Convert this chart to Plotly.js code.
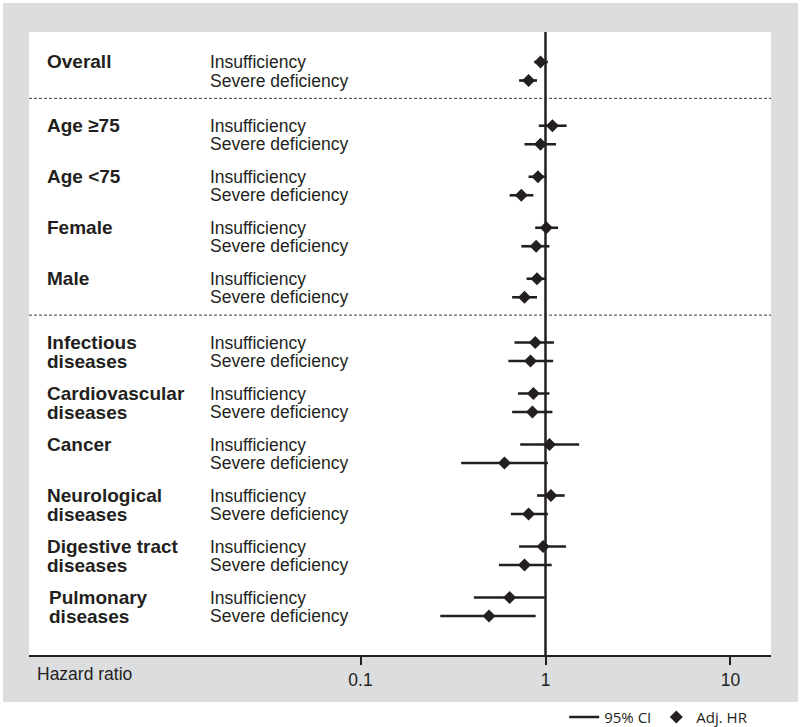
<!DOCTYPE html>
<html>
<head>
<meta charset="utf-8">
<script src="https://cdn.plot.ly/plotly-3.0.1.min.js"></script>
<style>
html,body{margin:0;padding:0;background:#ffffff;}
#chart{width:800px;height:727px;}
</style>
</head>
<body>
<div id="chart"></div>
<script>
// ---- Data ----
const groupLines = [
  ["Overall"], ["Age ≥75"], ["Age <75"], ["Female"], ["Male"],
  ["Infectious", "diseases"], ["Cardiovascular", "diseases"], ["Cancer"],
  ["Neurological", "diseases"], ["Digestive tract", "diseases"], ["Pulmonary", "diseases"]
];
const section = [0, 1, 1, 1, 1, 2, 2, 2, 2, 2, 2];
const subgroups = ["Insufficiency", "Severe deficiency"];

const hrIns = [0.94, 1.09, 0.91, 1.01, 0.90, 0.88, 0.86, 1.05, 1.07, 0.97, 0.64];
const loIns = [0.87, 0.92, 0.81, 0.88, 0.79, 0.68, 0.71, 0.73, 0.90, 0.72, 0.41];
const hiIns = [1.03, 1.30, 1.01, 1.17, 1.00, 1.11, 1.05, 1.52, 1.27, 1.29, 0.99];

const hrSev = [0.81, 0.94, 0.74, 0.89, 0.77, 0.83, 0.85, 0.60, 0.81, 0.77, 0.495];
const loSev = [0.72, 0.77, 0.64, 0.74, 0.66, 0.63, 0.66, 0.35, 0.65, 0.56, 0.27];
const hiSev = [0.90, 1.14, 0.86, 1.05, 0.90, 1.10, 1.09, 1.03, 1.03, 1.08, 0.885];

const tickVals = [0.1, 1, 10];
const tickLabels = ["0.1", "1", "10"];
const axisLabel = "Hazard ratio";
const legendNames = ["95% CI", "Adj. HR"];

// ---- Layout helpers (row positions from group / section index) ----
const SECTION_GAP = 0.25;
const SUB_STEP = 0.363;
const insY = groupLines.map((g, i) => i + section[i] * SECTION_GAP);
const sevY = insY.map(y => y + SUB_STEP);

const ink = "#231f20";
const labelFont = "Liberation Sans, Arial, Helvetica, sans-serif";

// CI segments
const ciX = [], ciY = [];
for (let i = 0; i < groupLines.length; i++) {
  ciX.push(loIns[i], hiIns[i], null, loSev[i], hiSev[i], null);
  ciY.push(insY[i], insY[i], null, sevY[i], sevY[i], null);
}
const hrX = [], hrY = [];
for (let i = 0; i < groupLines.length; i++) {
  hrX.push(hrIns[i], hrSev[i]);
  hrY.push(insY[i], sevY[i]);
}

const traces = [
  {
    type: "scatter", mode: "lines", name: legendNames[0],
    x: ciX, y: ciY, connectgaps: false,
    line: {color: ink, width: 2.6},
    hoverinfo: "skip"
  },
  {
    type: "scatter", mode: "markers", name: legendNames[1],
    x: hrX, y: hrY,
    marker: {symbol: "diamond", size: 10, color: ink, line: {width: 0}},
    hoverinfo: "skip"
  }
];

// Annotations: group names and subgroup labels
const annotations = [];
groupLines.forEach((lines, i) => {
  const ys = [insY[i], sevY[i]];
  const xOff = (lines[0] === "Pulmonary") ? 0.0243 : 0.0216;
  lines.forEach((t, k) => {
    annotations.push({
      text: t, xref: "paper", yref: "y", x: xOff, y: ys[k],
      xanchor: "left", yanchor: "middle", showarrow: false,
      font: {family: labelFont, size: 19, color: ink, weight: "bold"}
    });
  });
  subgroups.forEach((s, k) => {
    annotations.push({
      text: s, xref: "paper", yref: "y", x: 0.2406, y: ys[k],
      xanchor: "left", yanchor: "middle", showarrow: false,
      font: {family: labelFont, size: 17.5, color: ink}
    });
  });
});
annotations.push({
  text: axisLabel, xref: "paper", yref: "paper", x: 0.0081, y: -0.031,
  xanchor: "left", yanchor: "middle", showarrow: false,
  font: {family: labelFont, size: 17.5, color: ink}
});

// Shapes: background panels, reference line, section separators
const shapes = [
  {type: "rect", xref: "paper", yref: "paper", x0: -0.035, x1: 1.0364, y0: -0.0754, y1: 1.0465,
   fillcolor: "#dcdddf", line: {width: 0}, layer: "below"},
  {type: "rect", xref: "paper", yref: "paper", x0: 0, x1: 1, y0: 0, y1: 1,
   fillcolor: "#ffffff", line: {width: 0}, layer: "below"},
  {type: "line", xref: "x", yref: "paper", x0: 1, x1: 1, y0: 0, y1: 1,
   line: {color: ink, width: 2.5}, layer: "above"}
];
for (let i = 1; i < groupLines.length; i++) {
  if (section[i] !== section[i - 1]) {
    const ySep = sevY[i - 1] + 0.35;
    shapes.push({type: "line", xref: "paper", yref: "y", x0: 0, x1: 1, y0: ySep, y1: ySep,
      line: {color: "#3a3a3a", width: 1, dash: "3px,2px"}, layer: "above"});
  }
}

const layout = {
  width: 800, height: 727,
  margin: {l: 29, r: 29, t: 32, b: 72, pad: 0, autoexpand: false},
  paper_bgcolor: "#ffffff", plot_bgcolor: "#ffffff",
  showlegend: true,
  legend: {
    orientation: "h", x: 0.976, xanchor: "right", y: -0.1, yanchor: "middle",
    font: {family: "Open Sans, sans-serif", size: 15, color: ink},
    bgcolor: "rgba(0,0,0,0)", traceorder: "normal", itemwidth: 30
  },
  xaxis: {
    type: "log", range: [-2.792, 1.219],
    tickmode: "array", tickvals: tickVals, ticktext: tickLabels,
    ticks: "outside", ticklen: 8, tickwidth: 2, tickcolor: ink,
    showline: true, linecolor: ink, linewidth: 2, mirror: false,
    showgrid: false, zeroline: false, automargin: false,
    tickfont: {family: labelFont, size: 17.5, color: ink}
  },
  yaxis: {
    range: [11.627, -0.588], visible: false, showgrid: false, zeroline: false
  },
  annotations: annotations,
  shapes: shapes
};

Plotly.newPlot("chart", traces, layout, {displayModeBar: false, staticPlot: true});
</script>
</body>
</html>
